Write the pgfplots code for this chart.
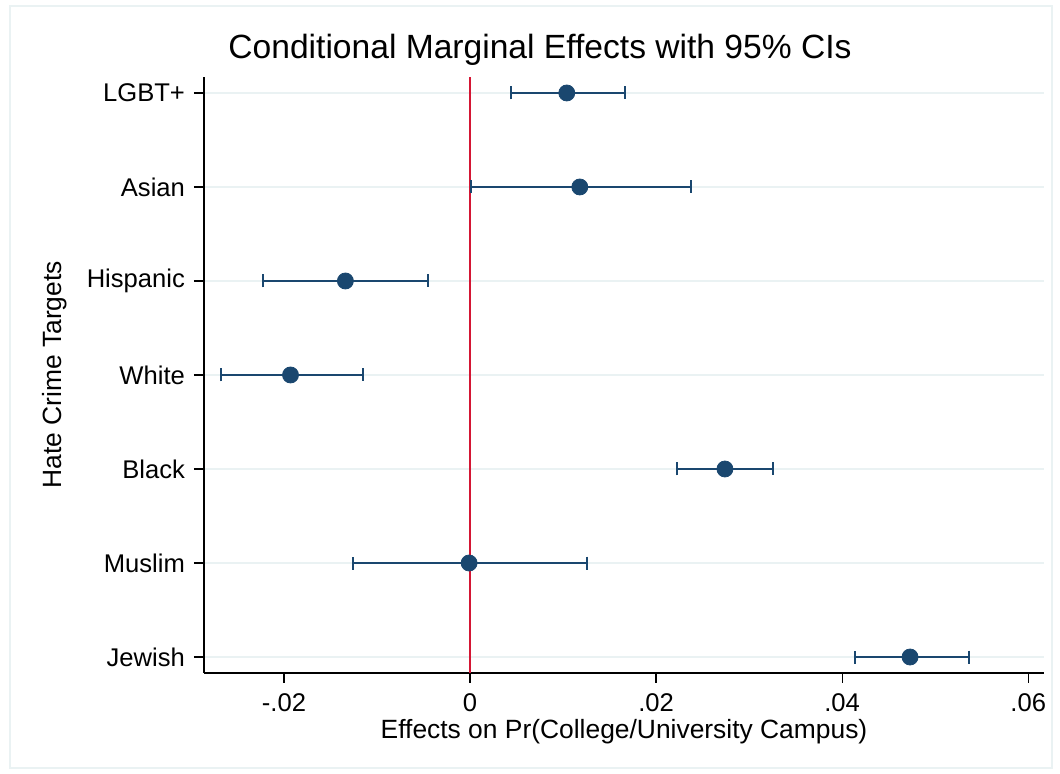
\documentclass[border=0pt]{standalone}
\usepackage{fontspec}
\setmainfont{Liberation Sans}
\usepackage{pgfplots}
\pgfplotsset{compat=1.18}
\usepackage{pgfplotstable}
\definecolor{navy}{RGB}{26,71,111}
\definecolor{gridc}{RGB}{234,242,243}
\definecolor{redl}{RGB}{212,22,52}
\pgfplotstableread{
x y em ep
0.0104 6 0.0060 0.0063
0.0118 5 0.0117 0.0119
-0.0134 4 0.0089 0.0089
-0.0193 3 0.0075 0.0078
0.0274 2 0.0051 0.0052
-0.0001 1 0.0125 0.0127
0.0473 0 0.0059 0.0063
}\datatab
\begin{document}
\begin{tikzpicture}
\path (-102pt,-50.5pt) rectangle (428pt,336.5pt);
\draw[gridc, line width=0.6pt] (-97pt,-47.5pt) rectangle (424pt,333.5pt);
\begin{axis}[
  scale only axis, width=420pt, height=298pt,
  at={(0pt,0pt)}, anchor=south west,
  xmin=-0.0286, xmax=0.0617, ymin=-0.17, ymax=6.17,
  axis lines*=left, axis line style={-, line width=0.6pt},
  tick align=outside, major tick length=5pt,
  tick style={black, line width=0.6pt},
  scaled x ticks=false,
  xtick={-0.02,0,0.02,0.04,0.06},
  xticklabels={-.02,0,.02,.04,.06},
  ytick={0,1,2,3,4,5,6},
  yticklabels={Jewish,Muslim,Black,White,Hispanic,Asian,LGBT+},
  ymajorgrids, grid style={gridc, line width=1pt},
  ticklabel style={font=\fontsize{12.8}{15}\selectfont},
  /pgf/number format/assume math mode=true,
  xticklabel style={yshift=-2pt},
  yticklabel style={xshift=-1pt},
  xlabel={Effects on Pr(College/University Campus)},
  ylabel={Hate Crime Targets},
  label style={font=\fontsize{13.2}{15}\selectfont},
  xlabel style={at={(axis description cs:0.5,0)}, anchor=center, yshift=-29.5pt},
  ylabel style={at={(axis description cs:0,0.5)}, anchor=center, yshift=74.5pt},
  clip=false,
]
\addplot[redl, line width=1.1pt] coordinates {(0,-0.17) (0,6.17)};
\addplot[navy, only marks, mark=*, mark size=4pt, mark options={fill=navy, draw=navy},
  error bars/.cd, x dir=both, x explicit,
  error bar style={navy, line width=1pt},
  error mark options={navy, line width=1pt, mark size=3.25pt, rotate=90}]
  table[x=x, y=y, x error minus=em, x error plus=ep] {\datatab};
\end{axis}
\node[font=\fontsize{16.8}{20}\selectfont] at (168pt,311.5pt) {Conditional Marginal Effects with 95\% CIs};
\end{tikzpicture}
\end{document}
